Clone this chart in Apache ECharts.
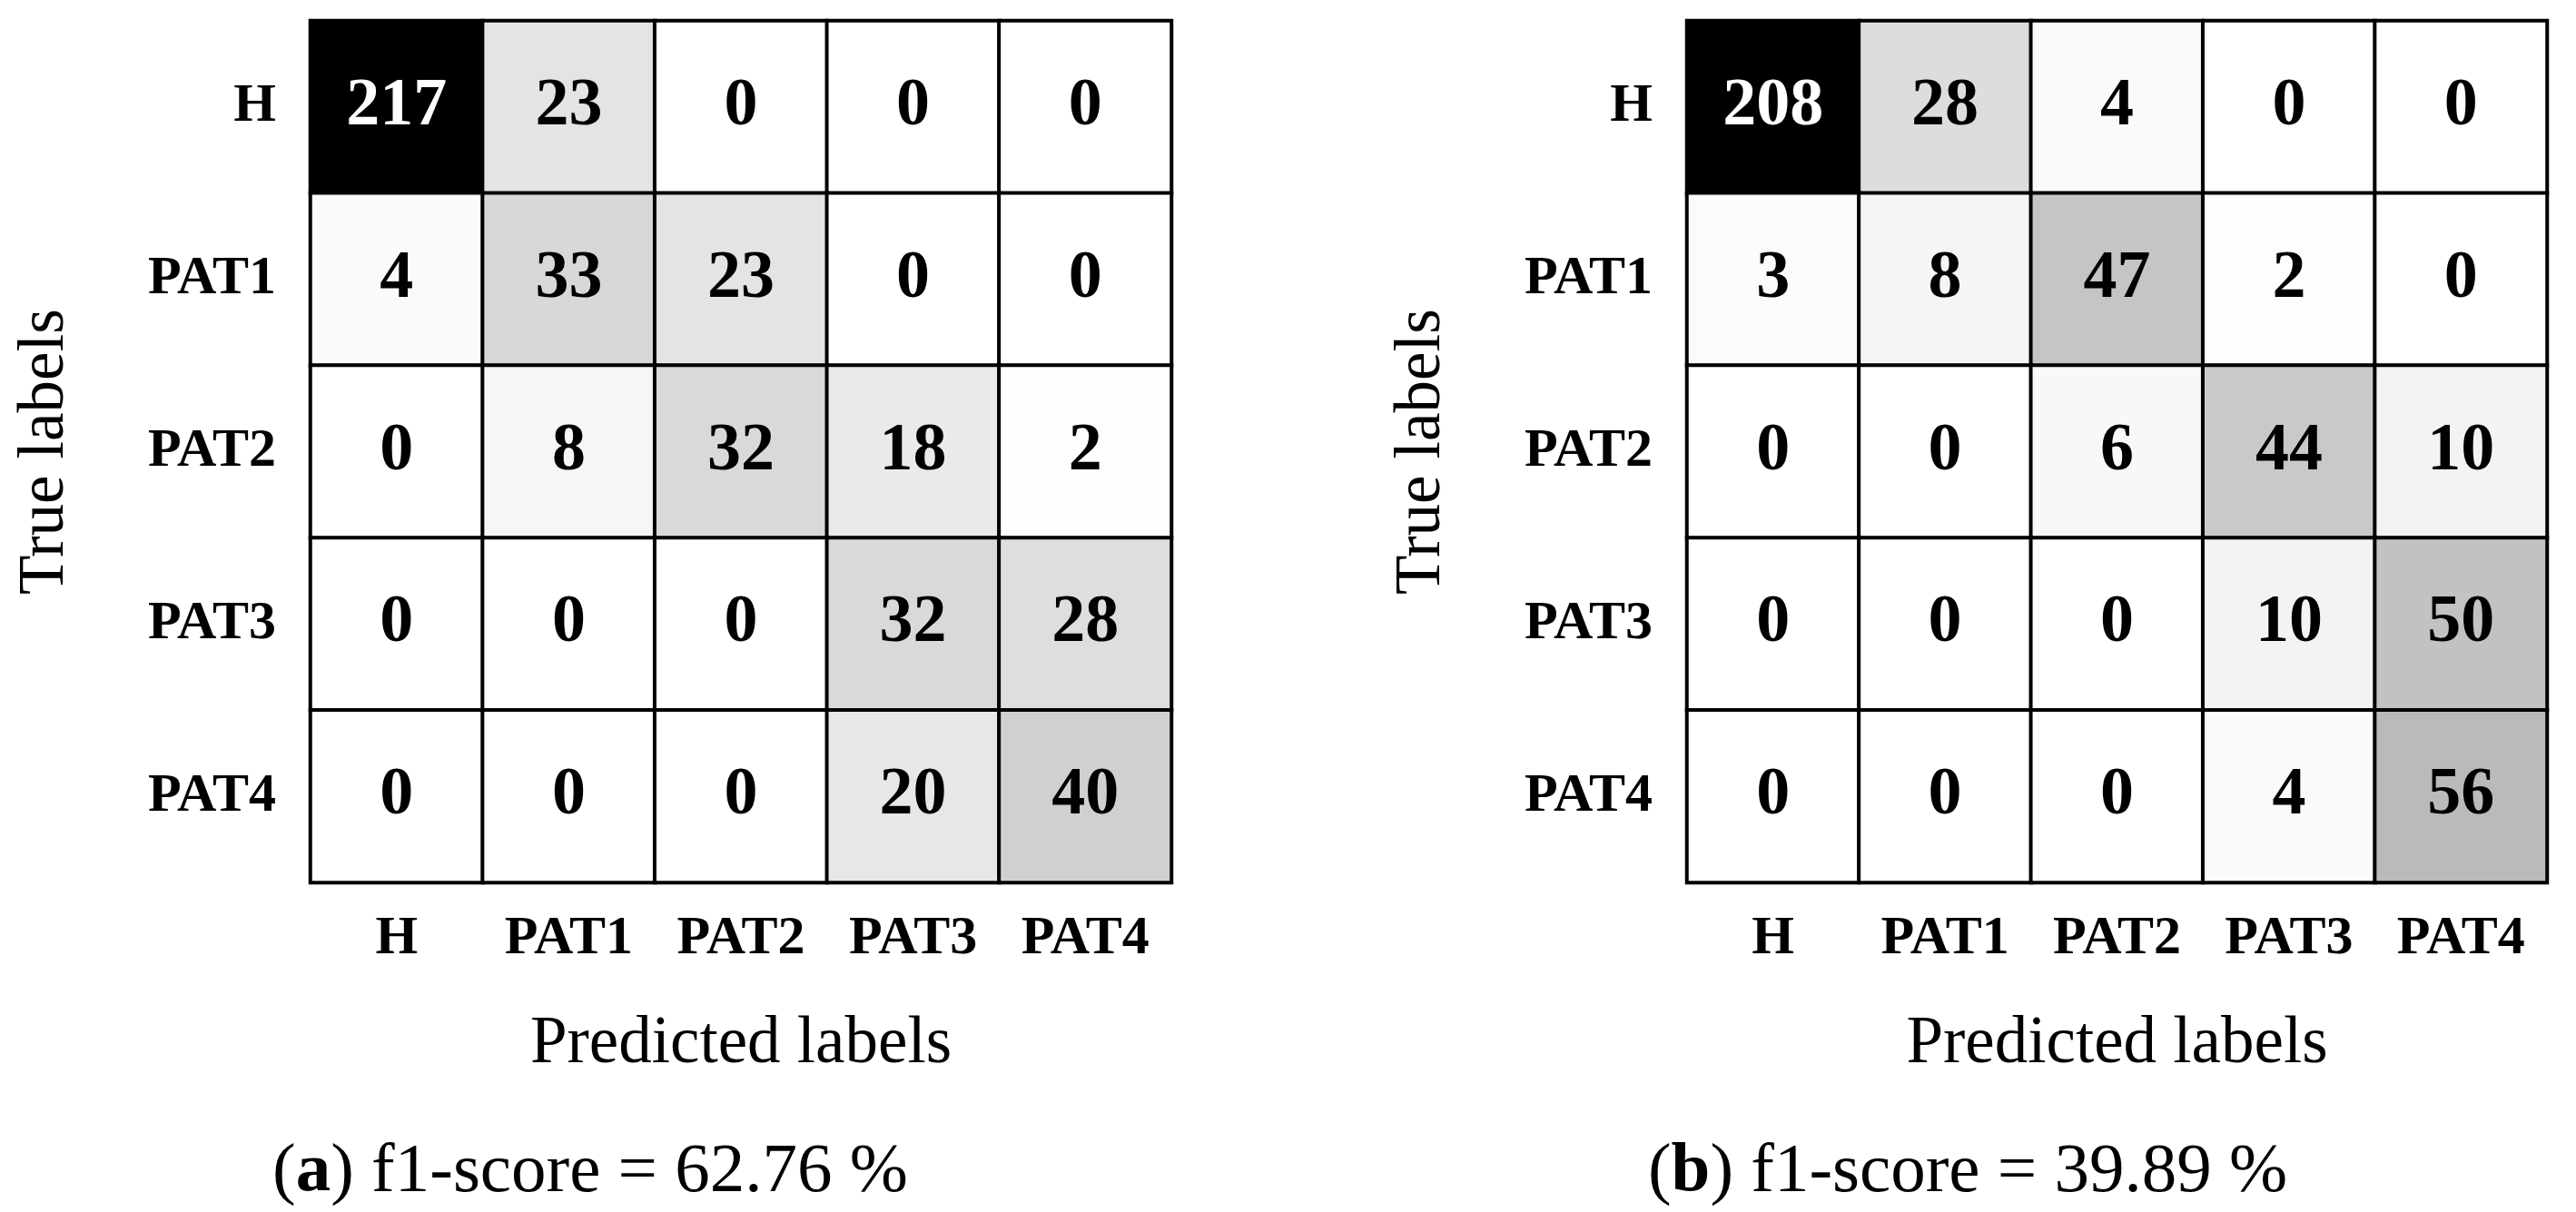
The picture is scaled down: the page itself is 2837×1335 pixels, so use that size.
<!DOCTYPE html>
<html>
<head>
<meta charset="utf-8">
<title>Confusion matrices</title>
<script src="https://cdn.jsdelivr.net/npm/echarts@6.0.0/dist/echarts.min.js"></script>
<style>
html, body { margin:0; padding:0; background:#fff; }
#chart { width:2837px; height:1335px; }
</style>
</head>
<body>
<div id="chart"></div>
<script>
// class labels (rows = true, cols = predicted)
var classes = ['H', 'PAT1', 'PAT2', 'PAT3', 'PAT4'];

// matrix (a)
var matrixA = [
    [217, 23, 0, 0, 0],
    [4, 33, 23, 0, 0],
    [0, 8, 32, 18, 2],
    [0, 0, 0, 32, 28],
    [0, 0, 0, 20, 40]
];
// matrix (b)
var matrixB = [
    [208, 28, 4, 0, 0],
    [3, 8, 47, 2, 0],
    [0, 0, 6, 44, 10],
    [0, 0, 0, 10, 50],
    [0, 0, 0, 4, 56]
];
var panelTags = ['a', 'b'];
var f1Scores = ['62.76', '39.89'];

var FONT = '"Liberation Serif", "DejaVu Serif", serif';

function maxOf(m) {
    var mx = 0;
    m.forEach(function (row) { row.forEach(function (v) { if (v > mx) mx = v; }); });
    return mx;
}

// heatmap data [col, row, value], text white on dark cells
function toData(m) {
    var mx = maxOf(m);
    var out = [];
    for (var r = 0; r < m.length; r++) {
        for (var c = 0; c < m[r].length; c++) {
            var v = m[r][c];
            out.push({ value: [c, r, v], label: { color: v > mx / 2 ? '#ffffff' : '#000000' } });
        }
    }
    return out;
}

var grids = [
    { left: 342, top: 23, width: 948, height: 949 },
    { left: 1858, top: 23, width: 947, height: 949 }
];
var captionX = [645, 2162];

var xAxes = [], yAxes = [], series = [], visualMaps = [], titles = [];
[matrixA, matrixB].forEach(function (m, i) {
    xAxes.push({
        type: 'category', gridIndex: i, data: classes, position: 'bottom',
        axisLine: { show: false }, axisTick: { show: false }, splitLine: { show: false },
        axisLabel: { margin: 32, fontFamily: FONT, fontSize: 60, fontWeight: 'bold', color: '#000' },
        name: 'Predicted labels', nameLocation: 'middle', nameGap: 142,
        nameTextStyle: { fontFamily: FONT, fontSize: 73, color: '#000' }
    });
    yAxes.push({
        type: 'category', gridIndex: i, data: classes, inverse: true,
        axisLine: { show: false }, axisTick: { show: false }, splitLine: { show: false },
        axisLabel: { margin: 38, fontFamily: FONT, fontSize: 60, fontWeight: 'bold', color: '#000' },
        name: 'True labels', nameLocation: 'middle', nameGap: 256, nameRotate: 90,
        nameTextStyle: { fontFamily: FONT, fontSize: 71, color: '#000' }
    });
    series.push({
        type: 'heatmap', xAxisIndex: i, yAxisIndex: i, data: toData(m),
        itemStyle: { borderColor: '#000', borderWidth: 4 },
        label: { show: true, fontFamily: FONT, fontSize: 74, fontWeight: 'bold' },
        emphasis: { disabled: true }
    });
    visualMaps.push({
        type: 'continuous', show: false, seriesIndex: i, dimension: 2,
        min: 0, max: maxOf(m),
        inRange: { color: ['#ffffff', '#000000'] }
    });
    titles.push({
        text: '({b|' + panelTags[i] + '}) f1-score = ' + f1Scores[i] + ' %',
        left: captionX[i], top: 1248, textAlign: 'center',
        textStyle: {
            fontFamily: FONT, fontSize: 77, fontWeight: 'normal', color: '#000',
            rich: { b: { fontFamily: FONT, fontSize: 77, fontWeight: 'bold', color: '#000' } }
        }
    });
});

var chart = echarts.init(document.getElementById('chart'));
chart.setOption({
    animation: false,
    backgroundColor: '#fff',
    title: titles,
    grid: grids,
    xAxis: xAxes,
    yAxis: yAxes,
    visualMap: visualMaps,
    series: series
});
</script>
</body>
</html>
